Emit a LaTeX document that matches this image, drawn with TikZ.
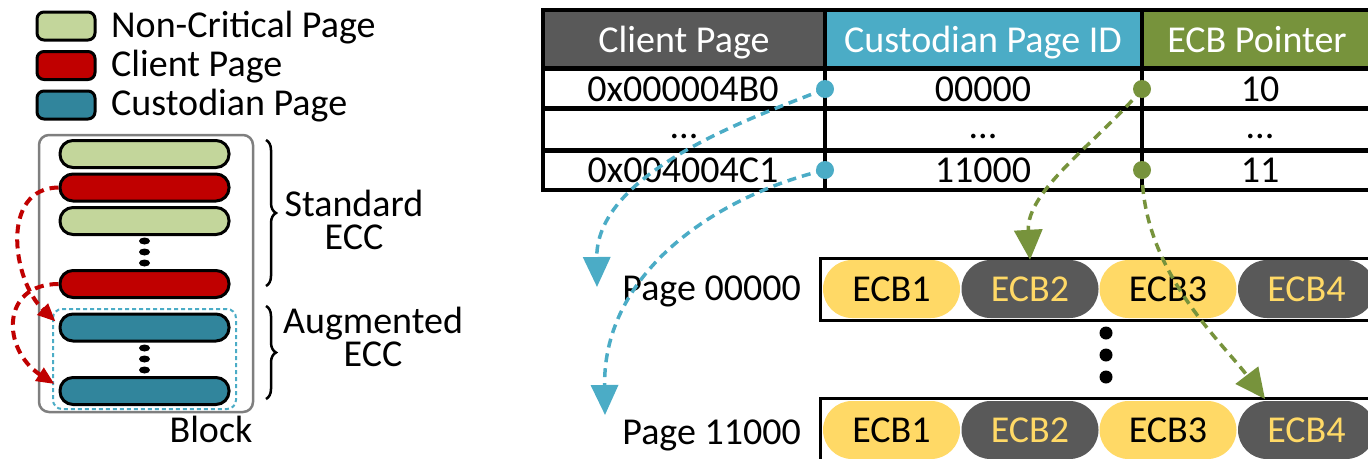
\documentclass[tikz,border=0pt]{standalone}
\usepackage{fontspec}
\setmainfont{Carlito}
\usetikzlibrary{arrows.meta,decorations.pathreplacing,calc,shapes.geometric}
\definecolor{ncgreen}{HTML}{C3D69B}
\definecolor{cred}{HTML}{C00000}
\definecolor{cteal}{HTML}{31859C}
\definecolor{dgray}{HTML}{595959}
\definecolor{ccyan}{HTML}{4BACC6}
\definecolor{cgreen}{HTML}{77933C}
\definecolor{cyel}{HTML}{FFD966}
\definecolor{bgray}{HTML}{7F7F7F}
\tikzset{
  legbox/.style={draw=black,line width=3pt,rounded corners=7pt,minimum width=58pt,minimum height=28pt,inner sep=0pt},
  pagebox/.style={draw=black,line width=3pt,rounded corners=13pt,minimum width=169pt,minimum height=27pt,inner sep=0pt},
  vdot/.style={ellipse,fill=black,minimum width=11pt,minimum height=7pt,inner sep=0pt},
  txt/.style={inner sep=0pt,anchor=base},
  ecbcap/.style={rounded corners=29pt,minimum width=137pt,minimum height=58pt,inner sep=0pt},
  ecbY/.style={ecbcap,fill=cyel,text=black},
  ecbG/.style={ecbcap,fill=dgray,text=cyel},
  tdot/.style={circle,minimum size=18pt,inner sep=0pt},
  redarr/.style={draw=cred,line width=4pt,dash pattern=on 9pt off 6pt,-{Triangle[length=18pt,width=15pt]}},
  cyanarr/.style={draw=ccyan,line width=3.5pt,dash pattern=on 9pt off 6pt,-{Triangle[length=30pt,width=27pt]}},
  greenarr/.style={draw=cgreen,line width=3.5pt,dash pattern=on 9pt off 6pt,-{Triangle[length=30pt,width=28pt]}},
}
\begin{document}
\begin{tikzpicture}[x=1pt,y=-1pt,font=\fontsize{38}{33}\selectfont]
\useasboundingbox (0,0) rectangle (1368,458);
% ---------- legend ----------
\node[legbox,fill=ncgreen] (lg1) at (66,26) {};
\node[legbox,fill=cred] (lg2) at (66,65.5) {};
\node[legbox,fill=cteal] (lg3) at (66,105) {};
\node[txt,anchor=base west] (lt1) at (111,37) {Non-Critical Page};
\node[txt,anchor=base west] (lt2) at (111,76) {Client Page};
\node[txt,anchor=base west] (lt3) at (111,115) {Custodian Page};
% ---------- block ----------
\draw[bgray,line width=2.5pt,rounded corners=10pt] (39,135) rectangle (253,412);
\draw[ccyan,line width=2pt,dash pattern=on 4pt off 3pt,rounded corners=9pt] (53,309) rectangle (236,409);
\node[pagebox,fill=ncgreen] (p1) at (144.5,154) {};
\node[pagebox,fill=cred] (p2) at (144.5,187.5) {};
\node[pagebox,fill=ncgreen] (p3) at (144.5,221) {};
\node[vdot] (d1) at (144.5,241) {};
\node[vdot] (d2) at (144.5,252) {};
\node[vdot] (d3) at (144.5,263) {};
\node[pagebox,fill=cred] (p4) at (144.5,284) {};
\node[pagebox,fill=cteal] (c1) at (144.5,327.5) {};
\node[vdot] (d4) at (144.5,348) {};
\node[vdot] (d5) at (144.5,359) {};
\node[vdot] (d6) at (144.5,370) {};
\node[pagebox,fill=cteal] (c2) at (144.5,391) {};
\draw[redarr] (p2.west) .. controls (0,188) and (12,280) .. ($(c1.west)+(-3,-6)$);
\draw[redarr] (p4.west) .. controls (0,284) and (2,350) .. ($(c2.west)+(-4,-7)$);
% braces
\draw[line width=2.5pt,decorate,decoration={brace,amplitude=10pt}] (266,140) -- (266,286);
\draw[line width=2.5pt,decorate,decoration={brace,amplitude=10pt}] (266,306) -- (266,399);
\node[inner sep=0pt,align=center] (std) at (354,220) {Standard\\ECC};
\node[inner sep=0pt,align=center] (aug) at (373,337) {Augmented\\ECC};
\node[txt] (blk) at (211,442) {Block};
% ---------- table ----------
\fill[dgray] (543,10) rectangle (825,68);
\fill[ccyan] (825,10) rectangle (1142,68);
\fill[cgreen] (1142,10) rectangle (1375,68);
\draw[line width=4pt] (543,10) rectangle (1375,190);
\draw[line width=5pt] (543,68) -- (1375,68);
\draw[line width=5pt] (543,108) -- (1375,108);
\draw[line width=5pt] (543,150) -- (1375,150);
\draw[line width=4pt] (825,10) -- (825,190);
\draw[line width=4pt] (1142,10) -- (1142,190);
\node[txt,text=white] (h1) at (684,52) {Client Page};
\node[txt,text=white] (h2) at (983,52) {Custodian Page ID};
\node[txt,text=white] (h3) at (1257,52) {ECB Pointer};
\node[txt] (r11) at (683,101) {0x000004B0};
\node[txt] (r12) at (983,101) {00000};
\node[txt] (r13) at (1260,101) {10};
\node[txt] (r21) at (684,138) {...};
\node[txt] (r22) at (983,138) {...};
\node[txt] (r23) at (1260,138) {...};
\node[txt] (r31) at (683,182) {0x004004C1};
\node[txt] (r32) at (983,182) {11000};
\node[txt] (r33) at (1260,182) {11};
% ---------- ECB rows ----------
\draw[fill=white,line width=3pt] (820,258) rectangle (1380,320);
\draw[fill=white,line width=3pt] (820,398) rectangle (1380,466);
\node[ecbY] (e1a) at (891.5,289) {ECB1};
\node[ecbG] (e2a) at (1030,289) {ECB2};
\node[ecbY] (e3a) at (1168,289) {ECB3};
\node[ecbG] (e4a) at (1306.5,289) {ECB4};
\node[ecbY] (e1b) at (891.5,430) {ECB1};
\node[ecbG] (e2b) at (1030,430) {ECB2};
\node[ecbY] (e3b) at (1168,430) {ECB3};
\node[ecbG] (e4b) at (1306.5,430) {ECB4};
\node[txt,anchor=base east] (pg0) at (801,300) {Page 00000};
\node[txt,anchor=base east] (pg1) at (801,444) {Page 11000};
\node[circle,fill=black,minimum width=13pt,inner sep=0pt] (bd1) at (1106,333) {};
\node[circle,fill=black,minimum width=13pt,inner sep=0pt] (bd2) at (1106,355) {};
\node[circle,fill=black,minimum width=13pt,inner sep=0pt] (bd3) at (1106,377) {};
% ---------- dots & arrows ----------
\node[tdot,fill=ccyan] (cd1) at (825,89) {};
\node[tdot,fill=ccyan] (cd2) at (825,170) {};
\node[tdot,fill=cgreen] (gd1) at (1142,89) {};
\node[tdot,fill=cgreen] (gd2) at (1142,170) {};
\coordinate (ct1) at (597,287);
\coordinate (ct2) at (605,415);
\coordinate (gt2) at (1265,399);
\draw[cyanarr] (cd1.center) .. controls (760,115) and (596,170) .. (ct1);
\draw[cyanarr] (cd2.center) .. controls (720,195) and (603,270) .. (ct2);
\draw[greenarr] (gd1.center) .. controls (1100,140) and (1026,190) .. (e2a.north);
\draw[greenarr] (gd2.center) .. controls (1142,270) and (1220,340) .. (gt2);
\end{tikzpicture}
\end{document}
